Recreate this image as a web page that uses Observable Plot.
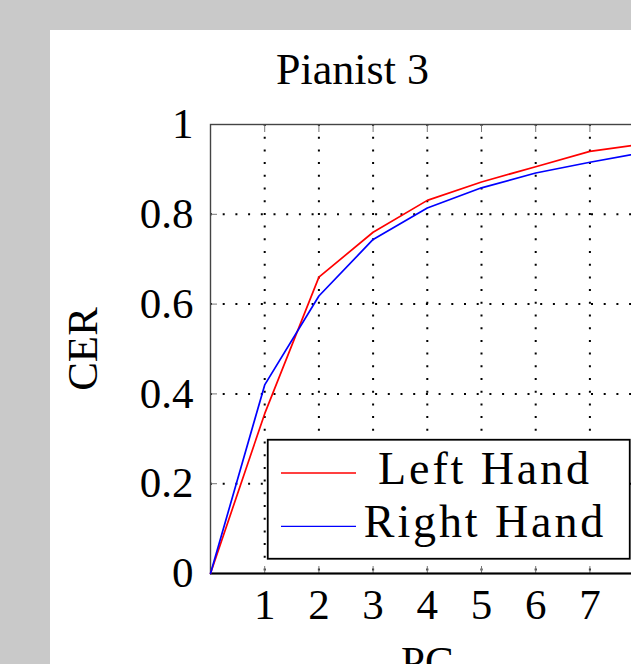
<!DOCTYPE html>
<html>
<head>
<meta charset="utf-8">
<script src="https://cdn.jsdelivr.net/npm/d3@7"></script>
<script src="https://cdn.jsdelivr.net/npm/@observablehq/plot@0.6"></script>
<style>
  html, body { margin: 0; padding: 0; width: 631px; height: 664px; overflow: hidden; background: #c9c9c9; }
  #panel { position: absolute; left: 50px; top: 30px; width: 700px; height: 700px; background: #fff; }
  #title { position: absolute; left: 352.5px; top: 48px; transform: translateX(-50%); font-family: "Liberation Serif", serif; font-size: 44px; line-height: 43px; white-space: nowrap; color: #000; }
  #chart { position: absolute; left: 0; top: 100px; width: 700px; }
  #chart svg { max-width: none !important; width: 700px; }
  #legend { position: absolute; left: 267px; top: 439px; }
</style>
</head>
<body>
<div id="panel"></div>
<div id="title"></div>
<div id="chart"></div>
<div id="legend"></div>
<script>
const chartTitle = "Pianist 3";
const xLabel = "PC";
const yLabel = "CER";
const seriesNames = ["Left Hand", "Right Hand"];
const seriesColors = ["#ff0000", "#0000ff"];
const pcs = [0, 1, 2, 3, 4, 5, 6, 7, 8];
const leftHand = [0, 0.356, 0.660, 0.760, 0.831, 0.872, 0.906, 0.940, 0.957];
const rightHand = [0, 0.420, 0.618, 0.744, 0.814, 0.859, 0.892, 0.916, 0.938];
const xTicks = [1, 2, 3, 4, 5, 6, 7];
const yTicks = [0, 0.2, 0.4, 0.6, 0.8, 1];
const yGrid = [0.2, 0.4, 0.6, 0.8];

const rows = [];
pcs.forEach((p, i) => {
  rows.push({pc: p, cer: leftHand[i], series: seriesNames[0]});
  rows.push({pc: p, cer: rightHand[i], series: seriesNames[1]});
});

document.getElementById("title").textContent = chartTitle;

const font = "Liberation Serif";
const W = 700, plotLeft = 210, plotRight = 643.6, mTop = 24, plotH = 449, mBottom = 110;

const chart = Plot.plot({
  width: W,
  height: mTop + plotH + mBottom,
  marginLeft: plotLeft,
  marginRight: W - plotRight,
  marginTop: mTop,
  marginBottom: mBottom,
  style: {fontFamily: font, color: "#000", background: "transparent", overflow: "visible", maxWidth: "none"},
  x: {domain: [0, 8]},
  y: {domain: [0, 1]},
  color: {domain: seriesNames, range: seriesColors},
  marks: [
    Plot.gridX(xTicks, {stroke: "#000", strokeOpacity: 1, strokeWidth: 2, strokeDasharray: "2,10.7", strokeLinecap: "butt"}),
    Plot.gridY(yGrid, {stroke: "#000", strokeOpacity: 1, strokeWidth: 2, strokeDasharray: "2,10.7", strokeLinecap: "butt"}),
    Plot.axisX(xTicks, {anchor: "bottom", tickSize: -7, text: null, label: null, stroke: "#777"}),
    Plot.axisX(xTicks, {anchor: "top", tickSize: -7, text: null, label: null, stroke: "#777"}),
    Plot.axisY(yTicks, {anchor: "left", tickSize: -7, text: null, label: null, stroke: "#777"}),
    Plot.axisY(yTicks, {anchor: "right", tickSize: -7, text: null, label: null, stroke: "#777"}),
    Plot.axisX(xTicks, {anchor: "bottom", tickSize: 0, tickPadding: 15, fontSize: 43, label: null, tickFormat: d3.format("d")}),
    Plot.axisY(yTicks, {anchor: "left", tickSize: 0, tickPadding: 17, fontSize: 43, label: null, tickFormat: d => d3.format("")(d)}),
    Plot.frame({stroke: "#444", strokeWidth: 1.4}),
    Plot.ruleY([0], {stroke: "#000", strokeWidth: 2.2}),
    Plot.line(rows, {x: "pc", y: "cer", z: "series", stroke: "series", strokeWidth: 1.7}),
    Plot.text([xLabel], {text: d => d, frameAnchor: "bottom", lineAnchor: "top", dy: 72, fontSize: 43}),
    Plot.text([yLabel], {text: d => d, frameAnchor: "left", rotate: -90, textAnchor: "middle", lineAnchor: "middle", dx: -127, fontSize: 43})
  ]
});
document.getElementById("chart").appendChild(chart);

// Legend (line swatches)
const lw = 362, lh = 119;
const leg = d3.select("#legend").append("svg").attr("width", lw + 2).attr("height", lh + 2)
  .style("overflow", "visible");
leg.append("rect").attr("x", 0.75).attr("y", 0.75).attr("width", lw).attr("height", lh)
  .attr("fill", "#fff").attr("stroke", "#000").attr("stroke-width", 1.8);
seriesNames.forEach((name, i) => {
  const cy = 34 + i * 53.3;
  leg.append("line").attr("x1", 14).attr("x2", 89).attr("y1", cy).attr("y2", cy)
    .attr("stroke", seriesColors[i]).attr("stroke-width", 1.3);
  leg.append("text").attr("x", 218).attr("y", cy + 10.5).attr("text-anchor", "middle")
    .attr("font-family", font).attr("font-size", 46).attr("letter-spacing", 2.9)
    .attr("fill", "#000").text(name);
});
</script>
</body>
</html>
